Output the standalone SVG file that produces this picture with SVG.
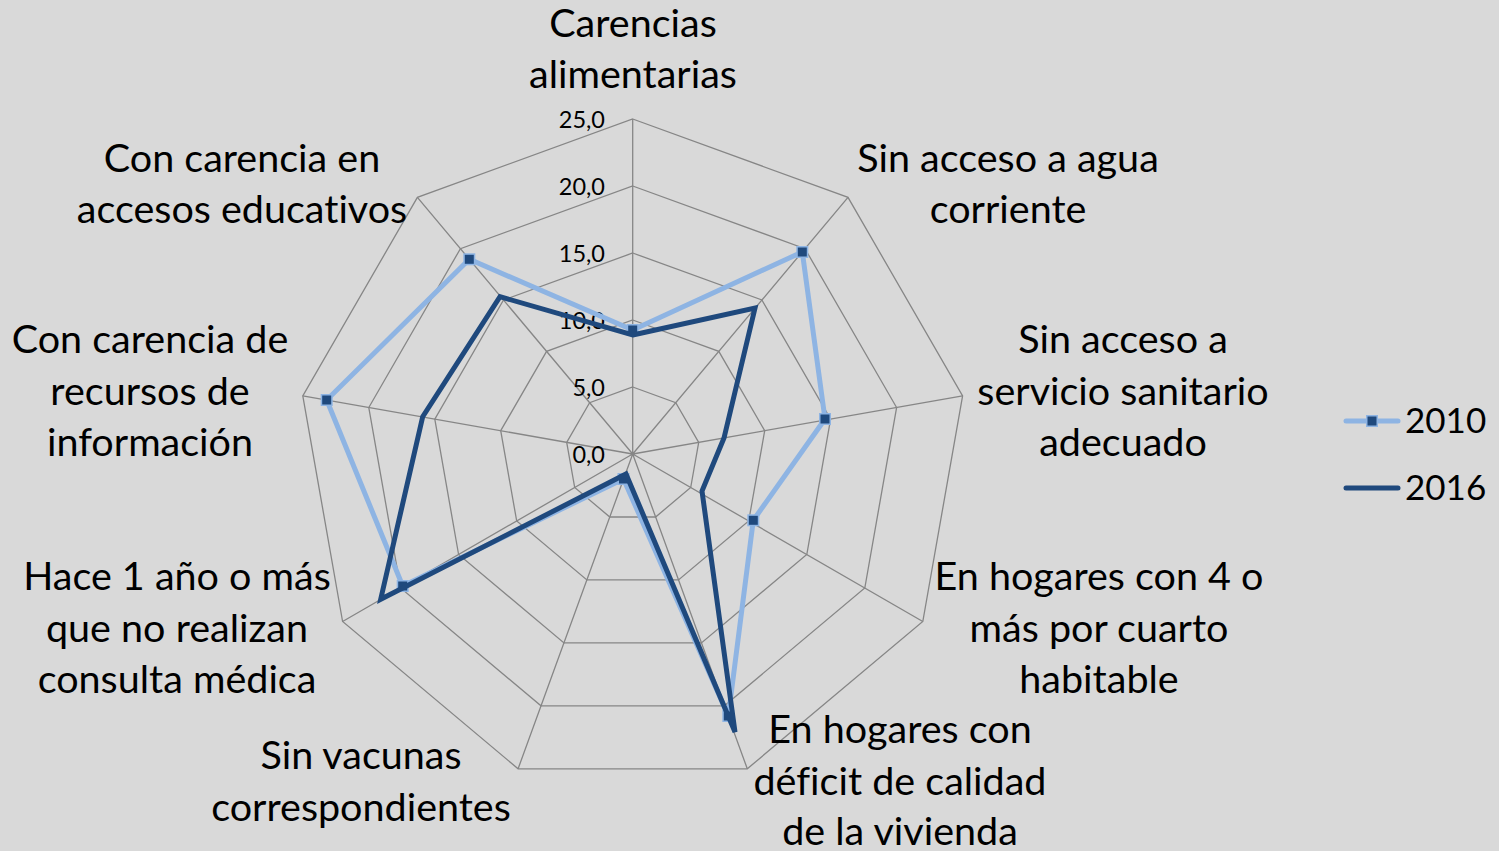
<svg xmlns="http://www.w3.org/2000/svg" width="1499" height="851" viewBox="0 0 1499 851">
<defs>
<style>
text{font-variant-ligatures:none}
.grid{fill:none;stroke:#868686;stroke-width:1.3}
.lbl{font-family:Lato,"Liberation Sans",sans-serif;font-size:39.5px;fill:#000;text-anchor:middle}
.tick{font-family:Lato,"Liberation Sans",sans-serif;font-size:23.5px;fill:#000;text-anchor:end}
.leg{font-family:Lato,"Liberation Sans",sans-serif;font-size:35px;fill:#000}
.s2010{fill:none;stroke:#8EB4E3;stroke-width:5;stroke-linejoin:miter}
.s2016{fill:none;stroke:#1F497D;stroke-width:5;stroke-linejoin:miter}
.mk{fill:#1F497D;stroke:#8EB4E3;stroke-width:1.5}
</style>
<rect id="m" class="mk" x="-5.25" y="-5.25" width="10.5" height="10.5"/>
</defs>
<rect width="1499" height="851" fill="#D9D9D9"/>
<g id="grid">
<polygon class="grid" points="632.7,387 675.8,402.7 698.7,442.4 690.7,487.5 655.6,517 609.8,517 574.7,487.5 566.7,442.4 589.6,402.7"/>
<polygon class="grid" points="632.7,320 718.8,351.4 764.7,430.7 748.7,521 678.5,579.9 586.9,579.9 516.7,521 500.7,430.7 546.6,351.4"/>
<polygon class="grid" points="632.7,253 761.9,300 830.6,419.1 806.8,554.5 701.4,642.9 564,642.9 458.6,554.5 434.8,419.1 503.5,300"/>
<polygon class="grid" points="632.7,186 805,248.7 896.6,407.5 864.8,588 724.4,705.8 541,705.8 400.6,588 368.8,407.5 460.4,248.7"/>
<polygon class="grid" points="632.7,119 848,197.4 962.6,395.8 922.8,621.5 747.3,768.8 518.1,768.8 342.6,621.5 302.8,395.8 417.4,197.4"/>
<path class="grid" d="M632.7,454L632.7,119M632.7,454L848,197.4M632.7,454L962.6,395.8M632.7,454L922.8,621.5M632.7,454L747.3,768.8M632.7,454L518.1,768.8M632.7,454L342.6,621.5M632.7,454L302.8,395.8M632.7,454L417.4,197.4"/>
</g>
<g id="ticks">
<text class="tick" x="605" y="128">25,0</text>
<text class="tick" x="605" y="195">20,0</text>
<text class="tick" x="605" y="262">15,0</text>
<text class="tick" x="605" y="329">10,0</text>
<text class="tick" x="605" y="396">5,0</text>
<text class="tick" x="605" y="463">0,0</text>
</g>
<g id="series-2010">
<polygon class="s2010" points="632.7,330 802.3,252 825,419 753.3,520.3 728.3,716 623.5,479 402.7,586 326.7,400 469.3,259.3"/>
<use href="#m" x="632.7" y="330"/>
<use href="#m" x="802.3" y="252"/>
<use href="#m" x="825" y="419"/>
<use href="#m" x="753.3" y="520.3"/>
<use href="#m" x="728.3" y="716"/>
<use href="#m" x="623.5" y="479"/>
<use href="#m" x="402.7" y="586"/>
<use href="#m" x="326.7" y="400"/>
<use href="#m" x="469.3" y="259.3"/>
</g>
<g id="series-2016">
<polygon class="s2016" points="632.7,335 755,308 724,438 702,491 735,732 626,474 380.7,599.3 422.7,416.7 500,296.7"/>
</g>
<g id="labels">
<g id="lbl-0"><text class="lbl" x="633" y="37">Carencias</text><text class="lbl" x="633" y="88">alimentarias</text></g>
<g id="lbl-1"><text class="lbl" x="1008" y="172">Sin acceso a agua</text><text class="lbl" x="1008" y="223">corriente</text></g>
<g id="lbl-2"><text class="lbl" x="1123" y="353">Sin acceso a</text><text class="lbl" x="1123" y="405">servicio sanitario</text><text class="lbl" x="1123" y="456">adecuado</text></g>
<g id="lbl-3"><text class="lbl" x="1099" y="590">En hogares con 4 o</text><text class="lbl" x="1099" y="642">más por cuarto</text><text class="lbl" x="1099" y="693">habitable</text></g>
<g id="lbl-4"><text class="lbl" x="900" y="743">En hogares con</text><text class="lbl" x="900" y="795">déficit de calidad</text><text class="lbl" x="900" y="845">de la vivienda</text></g>
<g id="lbl-5"><text class="lbl" x="361" y="769">Sin vacunas</text><text class="lbl" x="361" y="821">correspondientes</text></g>
<g id="lbl-6"><text class="lbl" x="177" y="590">Hace 1 año o más</text><text class="lbl" x="177" y="642">que no realizan</text><text class="lbl" x="177" y="693">consulta médica</text></g>
<g id="lbl-7"><text class="lbl" x="150" y="353">Con carencia de</text><text class="lbl" x="150" y="405">recursos de</text><text class="lbl" x="150" y="456">información</text></g>
<g id="lbl-8"><text class="lbl" x="242" y="172">Con carencia en</text><text class="lbl" x="242" y="223">accesos educativos</text></g>
</g>
<g id="legend">
<line x1="1346" y1="421" x2="1398" y2="421" stroke="#8EB4E3" stroke-width="5" stroke-linecap="round"/>
<use href="#m" x="1372" y="421"/>
<text class="leg" x="1405" y="433">2010</text>
<line x1="1346" y1="488" x2="1398" y2="488" stroke="#1F497D" stroke-width="5" stroke-linecap="round"/>
<text class="leg" x="1405" y="500">2016</text>
</g>
</svg>
